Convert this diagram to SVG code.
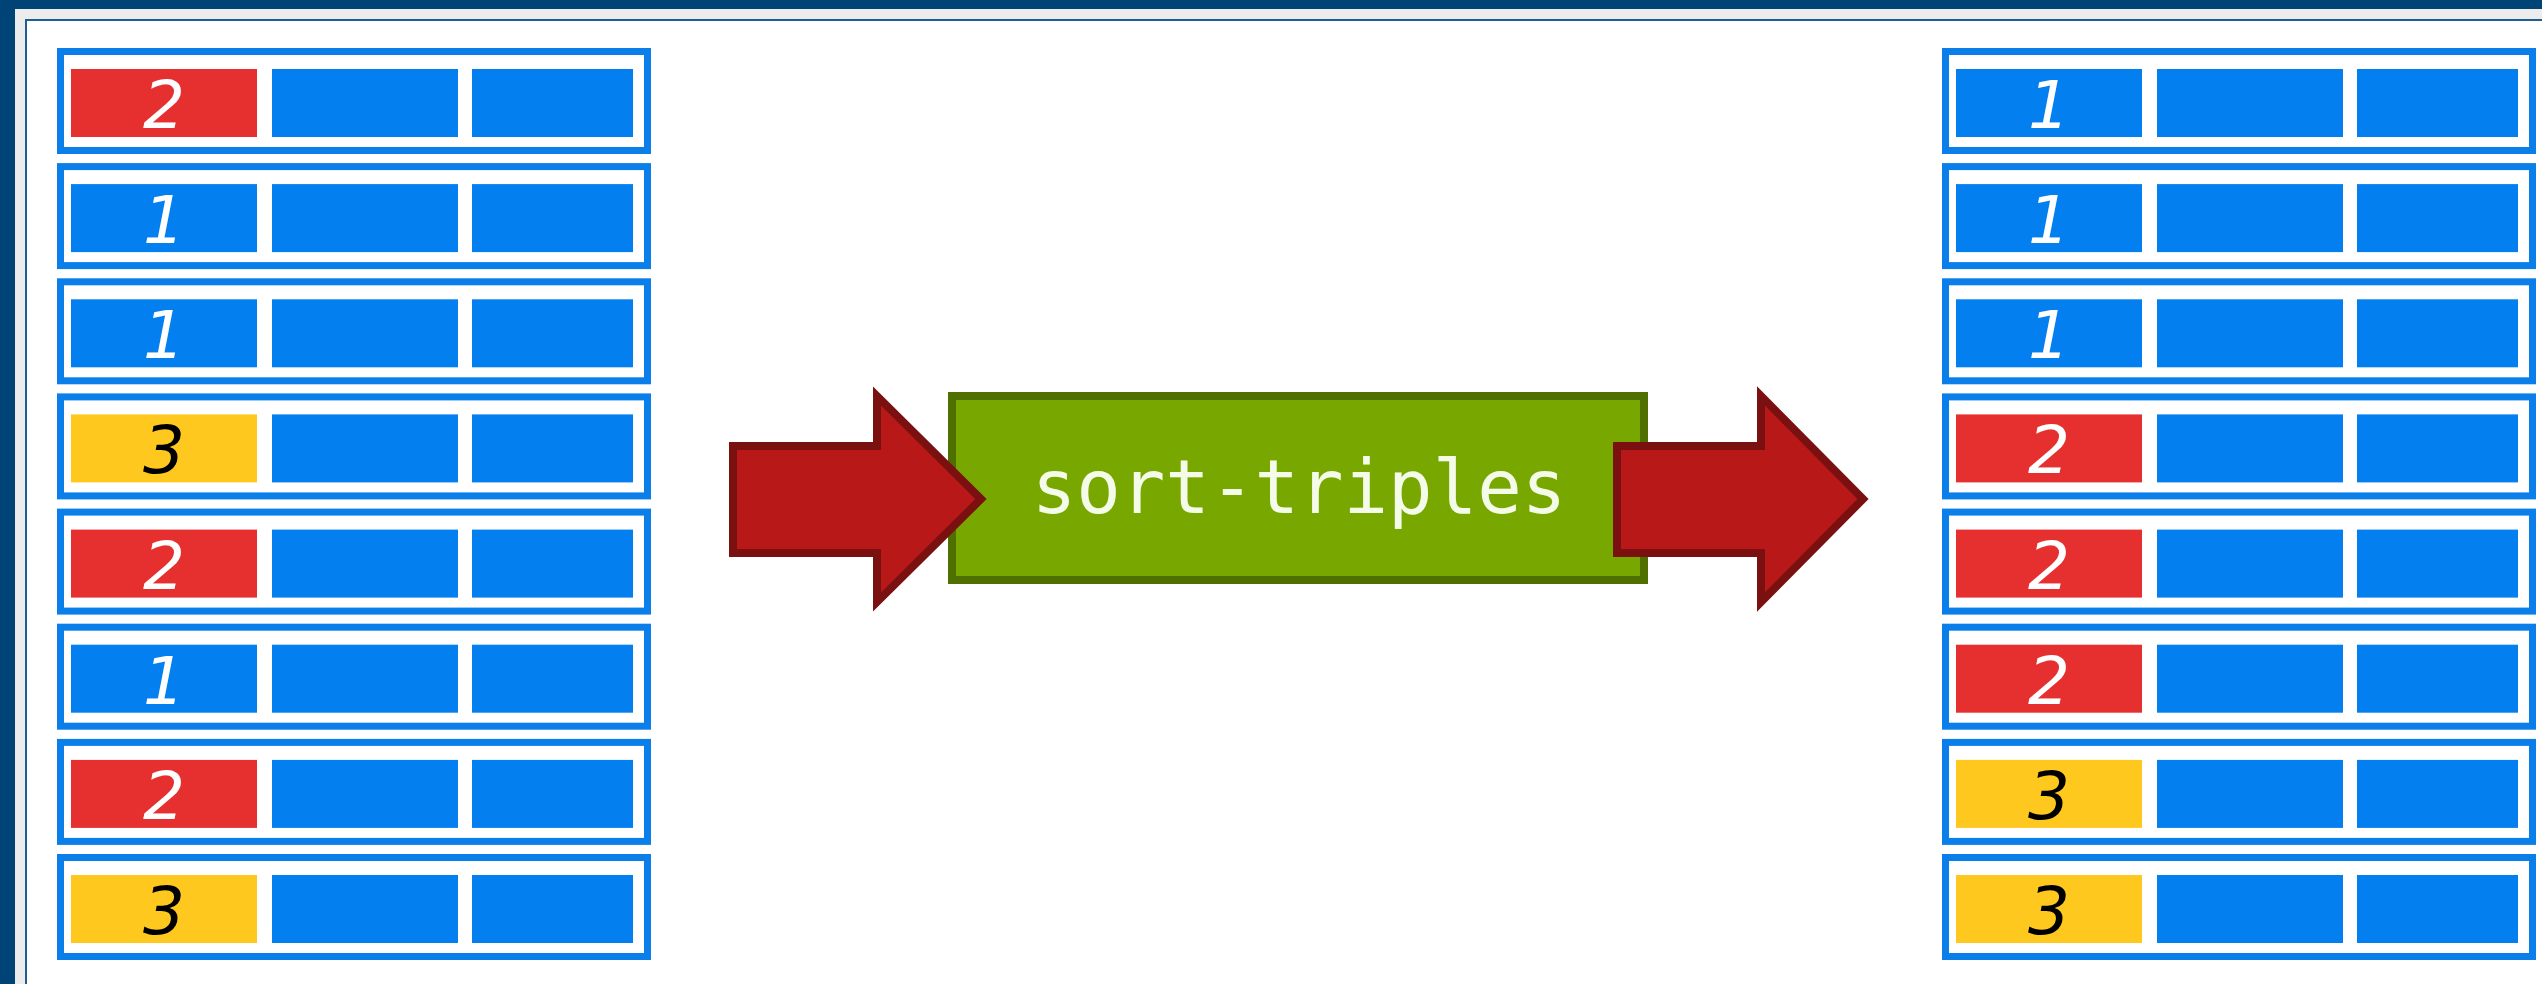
<svg xmlns="http://www.w3.org/2000/svg" width="2542" height="984" viewBox="0 0 2542 984">
<style>
.box{fill:#ffffff;stroke:#0a7fe9;stroke-width:7}
.c{fill:#037ff0}
.r{fill:#e63030}
.y{fill:#fec81e}
.d{font-family:"DejaVu Sans","Liberation Sans",sans-serif;font-style:italic;font-size:66px;text-anchor:middle}
.w{fill:#ffffff}
.k{fill:#000000}
.arrow{fill:#b81818;stroke:#7a1010;stroke-width:8;stroke-linejoin:miter}
</style>
<defs>
<g id="row">
<rect class="box" x="3.5" y="3.5" width="587" height="99"/>
<rect class="c" x="215" y="21" width="186" height="68"/>
<rect class="c" x="415" y="21" width="161" height="68"/>
</g>
</defs>
<rect x="0" y="0" width="2542" height="984" fill="#ffffff"/>
<g id="frame">
<rect x="0" y="0" width="2542" height="9" fill="#004377"/>
<rect x="0" y="0" width="15" height="984" fill="#004377"/>
<rect x="15" y="9" width="2527" height="10" fill="#ececec"/>
<rect x="15" y="9" width="10" height="975" fill="#ececec"/>
<rect x="25" y="19" width="2517" height="2" fill="#1f5d90"/>
<rect x="25" y="19" width="2" height="965" fill="#1f5d90"/>
</g>
<g id="input">
<g id="in1" transform="translate(57,48)"><use href="#row"/><rect class="r" x="14" y="21" width="186" height="68"/><text class="d w" x="107" y="80">2</text></g>
<g id="in2" transform="translate(57,163.1)"><use href="#row"/><rect class="c" x="14" y="21" width="186" height="68"/><text class="d w" x="107" y="80">1</text></g>
<g id="in3" transform="translate(57,278.3)"><use href="#row"/><rect class="c" x="14" y="21" width="186" height="68"/><text class="d w" x="107" y="80">1</text></g>
<g id="in4" transform="translate(57,393.4)"><use href="#row"/><rect class="y" x="14" y="21" width="186" height="68"/><text class="d k" x="107" y="80">3</text></g>
<g id="in5" transform="translate(57,508.6)"><use href="#row"/><rect class="r" x="14" y="21" width="186" height="68"/><text class="d w" x="107" y="80">2</text></g>
<g id="in6" transform="translate(57,623.7)"><use href="#row"/><rect class="c" x="14" y="21" width="186" height="68"/><text class="d w" x="107" y="80">1</text></g>
<g id="in7" transform="translate(57,738.9)"><use href="#row"/><rect class="r" x="14" y="21" width="186" height="68"/><text class="d w" x="107" y="80">2</text></g>
<g id="in8" transform="translate(57,854)"><use href="#row"/><rect class="y" x="14" y="21" width="186" height="68"/><text class="d k" x="107" y="80">3</text></g>
</g>
<g id="output">
<g id="out1" transform="translate(1942,48)"><use href="#row"/><rect class="c" x="14" y="21" width="186" height="68"/><text class="d w" x="107" y="80">1</text></g>
<g id="out2" transform="translate(1942,163.1)"><use href="#row"/><rect class="c" x="14" y="21" width="186" height="68"/><text class="d w" x="107" y="80">1</text></g>
<g id="out3" transform="translate(1942,278.3)"><use href="#row"/><rect class="c" x="14" y="21" width="186" height="68"/><text class="d w" x="107" y="80">1</text></g>
<g id="out4" transform="translate(1942,393.4)"><use href="#row"/><rect class="r" x="14" y="21" width="186" height="68"/><text class="d w" x="107" y="80">2</text></g>
<g id="out5" transform="translate(1942,508.6)"><use href="#row"/><rect class="r" x="14" y="21" width="186" height="68"/><text class="d w" x="107" y="80">2</text></g>
<g id="out6" transform="translate(1942,623.7)"><use href="#row"/><rect class="r" x="14" y="21" width="186" height="68"/><text class="d w" x="107" y="80">2</text></g>
<g id="out7" transform="translate(1942,738.9)"><use href="#row"/><rect class="y" x="14" y="21" width="186" height="68"/><text class="d k" x="107" y="80">3</text></g>
<g id="out8" transform="translate(1942,854)"><use href="#row"/><rect class="y" x="14" y="21" width="186" height="68"/><text class="d k" x="107" y="80">3</text></g>
</g>
<g id="sort-triples">
<rect x="952" y="396" width="692" height="184" fill="#78a800" stroke="#4f7000" stroke-width="8"/>
<text x="1299" y="513" font-family="'DejaVu Sans Mono','Liberation Mono',monospace" font-size="74" fill="#f4fbe8" text-anchor="middle">sort-triples</text>
</g>
<g id="connectors">
<polygon class="arrow" points="733,446 877,446 877,396 981,499 877,602 877,553 733,553"/>
<polygon class="arrow" points="1617,446 1761,446 1761,396 1863,499 1761,602 1761,553 1617,553"/>
</g>
</svg>
